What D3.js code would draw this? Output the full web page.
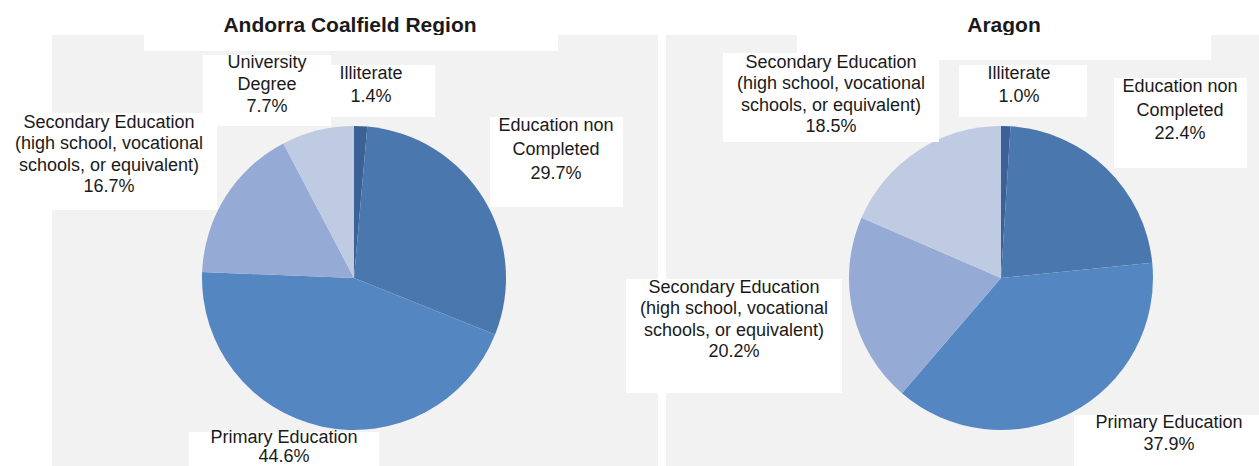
<!DOCTYPE html>
<html>
<head>
<meta charset="utf-8">
<script src="https://cdn.jsdelivr.net/npm/d3@7"></script>
<style>
  body { margin: 0; background: #fff; }
  svg { display: block; }
</style>
</head>
<body>
<div id="chart"></div>
<script>
// data
let titles = ["Andorra Coalfield Region", "Aragon"];

let andorraLabels = [
  ["Illiterate"],
  ["Education non", "Completed"],
  ["Primary Education"],
  ["Secondary Education", "(high school, vocational", "schools, or equivalent)"],
  ["University", "Degree"]
];
let andorraValues = [1.4, 29.7, 44.6, 16.7, 7.7];

let aragonLabels = [
  ["Illiterate"],
  ["Education non", "Completed"],
  ["Primary Education"],
  ["Secondary Education", "(high school, vocational", "schools, or equivalent)"],
  ["Secondary Education", "(high school, vocational", "schools, or equivalent)"]
];
let aragonValues = [1.0, 22.4, 37.9, 20.2, 18.5];

let sliceColors = ["#3b6197", "#4a77ad", "#5487c1", "#95aad4", "#bfcae3"];

let config = {
  width: 1259,
  height: 466,
  r: 152,
  panelColor: '#f2f2f2',
  textColor: '#1a1a1a',
  fontFamily: '"Liberation Sans", Arial, Helvetica, sans-serif',
  labelFontSize: '18px',
  titleFontSize: '21px'
};

// layout of each chart: panel, pie centre, white boxes behind labels, label anchors
let charts = [
  {
    title: titles[0], titleX: 350,
    labels: andorraLabels, values: andorraValues,
    cx: 354, cy: 278,
    panel: [52, 35, 606, 431],
    boxes: [[144, 35, 414, 16], [0, 113, 217, 97], [203, 55, 128, 71], [331, 65, 104, 52],
            [490, 117, 133, 90], [189, 432, 190, 34]],
    // [center x, first baseline, line height] per slice
    anchors: [[371, 79, 23], [556, 131, 24], [284, 443, 19], [109, 128, 21.3], [267, 68, 22]]
  },
  {
    title: titles[1], titleX: 1004,
    labels: aragonLabels, values: aragonValues,
    cx: 1001, cy: 278,
    panel: [666, 35, 593, 431],
    boxes: [[797, 35, 414, 25], [723, 53, 216, 89], [959, 65, 128, 52], [1114, 78, 133, 90],
            [626, 279, 216, 114], [1074, 415, 185, 51]],
    anchors: [[1019, 79, 23], [1180, 92, 23.5], [1169, 428, 22], [734, 293, 21.3], [831, 68, 21.3]]
  }
];

let svg = d3.select('#chart').append('svg')
  .attr('width', config.width)
  .attr('height', config.height);

let pie = d3.pie().sort(null).value(d => d);
let arc = d3.arc().innerRadius(0).outerRadius(config.r);

charts.forEach(function(c) {
  let g = svg.append('g');

  g.append('rect')
    .attr('x', c.panel[0]).attr('y', c.panel[1])
    .attr('width', c.panel[2]).attr('height', c.panel[3])
    .attr('fill', config.panelColor);

  g.append('text')
    .attr('x', c.titleX).attr('y', 32)
    .attr('text-anchor', 'middle')
    .attr('font-family', config.fontFamily)
    .attr('font-size', config.titleFontSize)
    .attr('font-weight', 'bold')
    .attr('fill', config.textColor)
    .text(c.title);

  let pieData = pie(c.values);

  g.append('g')
    .attr('transform', 'translate(' + c.cx + ',' + c.cy + ')')
    .selectAll('path')
    .data(pieData)
    .enter().append('path')
    .attr('d', arc)
    .attr('fill', (d, i) => sliceColors[i]);

  // white boxes behind the labels (they sit over the pies' surroundings)
  g.selectAll('rect.box')
    .data(c.boxes)
    .enter().append('rect')
    .attr('class', 'box')
    .attr('x', d => d[0]).attr('y', d => d[1])
    .attr('width', d => d[2]).attr('height', d => d[3])
    .attr('fill', '#fff');

  let labels = g.selectAll('text.label')
    .data(pieData)
    .enter().append('text')
    .attr('class', 'label')
    .attr('text-anchor', 'middle')
    .attr('font-family', config.fontFamily)
    .attr('font-size', config.labelFontSize)
    .attr('fill', config.textColor);

  labels.each(function(d, i) {
    let a = c.anchors[i];
    let lines = c.labels[i].concat([d.data.toFixed(1) + '%']);
    d3.select(this).selectAll('tspan')
      .data(lines)
      .enter().append('tspan')
      .attr('x', a[0])
      .attr('y', (t, j) => a[1] + j * a[2])
      .text(t => t);
  });
});
</script>
</body>
</html>
